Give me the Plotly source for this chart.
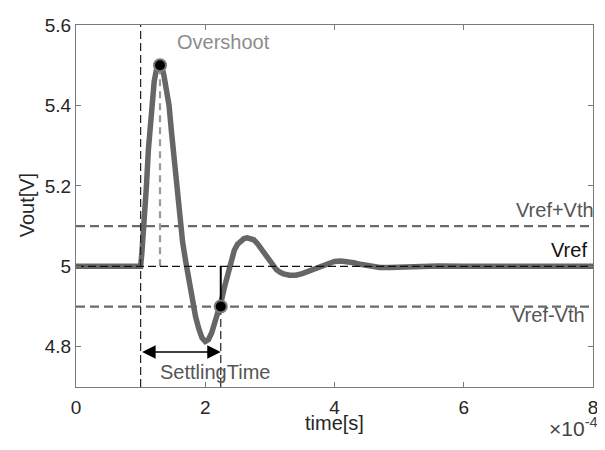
import plotly.graph_objects as go

# ---- data (time in units of 1e-4 s) ----
time_e4 = [0.0, 1.0, 1.02, 1.04, 1.06, 1.09, 1.12, 1.15, 1.18, 1.21, 1.24, 1.27,
           1.30, 1.33, 1.36, 1.40, 1.44, 1.48, 1.52, 1.56, 1.60, 1.65, 1.70, 1.75,
           1.80, 1.85, 1.90, 1.95, 2.00, 2.05, 2.10, 2.15, 2.20, 2.25, 2.30, 2.35,
           2.40, 2.45, 2.50, 2.55, 2.60, 2.65, 2.70, 2.75, 2.80, 2.85, 2.90, 2.95,
           3.00, 3.05, 3.10, 3.15, 3.20, 3.30, 3.40, 3.50, 3.60, 3.70, 3.80, 3.90,
           4.00, 4.10, 4.20, 4.30, 4.40, 4.50, 4.60, 4.70, 4.85, 5.00, 5.20, 5.40,
           5.60, 6.00, 8.00]
vout = [5.0, 5.0, 5.035, 5.075, 5.12, 5.20, 5.29, 5.36, 5.42, 5.46, 5.485, 5.50,
        5.503, 5.495, 5.475, 5.445, 5.40, 5.33, 5.26, 5.19, 5.125, 5.06, 5.01, 4.96,
        4.915, 4.875, 4.845, 4.822, 4.813, 4.818, 4.835, 4.86, 4.885, 4.915, 4.95, 4.985,
        5.015, 5.04, 5.055, 5.064, 5.069, 5.071, 5.07, 5.066, 5.058, 5.047, 5.035, 5.022,
        5.01, 5.0, 4.992, 4.986, 4.982, 4.978, 4.978, 4.982, 4.988, 4.995, 5.002, 5.008,
        5.012, 5.013, 5.012, 5.009, 5.005, 5.002, 4.999, 4.997, 4.997, 4.998, 5.0, 5.001,
        5.001, 5.0, 5.0]

vref = 5.0
vth = 0.1
step_time = 1.0
overshoot_t, overshoot_v = 1.3, 5.5
settle_t, settle_v = 2.24, 4.9

x_ticks = [0, 2, 4, 6, 8]
y_ticks = [4.8, 5.0, 5.2, 5.4, 5.6]
y_tick_labels = ["4.8", "5", "5.2", "5.4", "5.6"]
x_range = [0, 8]
y_range = [4.7, 5.6]

FONT = "Liberation Sans, Arial, Helvetica, sans-serif"
fig = go.Figure()

# threshold lines (gray dashed)
for v in (vref + vth, vref - vth):
    fig.add_trace(go.Scatter(x=x_range, y=[v, v], mode="lines",
                             line=dict(color="#6a6a6a", width=2.2, dash="9px,5px"),
                             hoverinfo="skip", showlegend=False))

# main response curve
fig.add_trace(go.Scatter(x=time_e4, y=vout, mode="lines",
                         line=dict(color="#666666", width=5.5),
                         showlegend=False))

# overshoot gray dashed vertical
fig.add_trace(go.Scatter(x=[overshoot_t, overshoot_t], y=[vref, overshoot_v], mode="lines",
                         line=dict(color="#9a9a9a", width=2.2, dash="7px,5px"),
                         hoverinfo="skip", showlegend=False))

# Vref black dashed
fig.add_trace(go.Scatter(x=x_range, y=[vref, vref], mode="lines",
                         line=dict(color="#111111", width=1.2, dash="8px,4px"),
                         hoverinfo="skip", showlegend=False))

# step time vertical dashed
fig.add_trace(go.Scatter(x=[step_time, step_time], y=y_range, mode="lines",
                         line=dict(color="#222222", width=1.2, dash="8px,4px"),
                         hoverinfo="skip", showlegend=False))

# settling time vertical dashed (below)
fig.add_trace(go.Scatter(x=[settle_t, settle_t], y=[y_range[0], settle_v], mode="lines",
                         line=dict(color="#222222", width=1.2, dash="8px,4px"),
                         hoverinfo="skip", showlegend=False))

# settling solid vertical
fig.add_trace(go.Scatter(x=[settle_t, settle_t], y=[settle_v, vref], mode="lines",
                         line=dict(color="#000000", width=2),
                         hoverinfo="skip", showlegend=False))

# markers
fig.add_trace(go.Scatter(x=[overshoot_t, settle_t], y=[overshoot_v, settle_v], mode="markers",
                         marker=dict(color="#000000", size=12, line=dict(color="#7a7a7a", width=2)),
                         showlegend=False))

annotations = [
    dict(x=1.53, y=5.557, text="Overshoot", showarrow=False, xanchor="left", yanchor="middle",
         font=dict(family=FONT, size=20, color="#8c8c8c")),
    dict(x=7.93, y=5.139, xshift=8, text="Vref+Vth", showarrow=False, xanchor="right",
         yanchor="middle", font=dict(family=FONT, size=20, color="#555555")),
    dict(x=7.94, y=5.041, text="Vref", showarrow=False, xanchor="right", yanchor="middle",
         font=dict(family=FONT, size=20, color="#111111")),
    dict(x=7.90, y=4.879, text="Vref-Vth", showarrow=False, xanchor="right", yanchor="middle",
         font=dict(family=FONT, size=20, color="#555555")),
    dict(x=2.15, y=4.738, text="SettlingTime", showarrow=False,
         xanchor="center", yanchor="middle", font=dict(family=FONT, size=20, color="#555555")),
    # double-headed arrow
    dict(x=settle_t, y=4.787, ax=step_time, ay=4.787, xref="x", yref="y", axref="x", ayref="y",
         text="", showarrow=True, arrowhead=2, startarrowhead=2, arrowside="end+start",
         arrowwidth=1.5, arrowcolor="#000000", arrowsize=1.8, startarrowsize=1.8),
    # axis titles
    dict(x=0.5, y=-0.099, xref="paper", yref="paper", text="time[s]", showarrow=False,
         xanchor="center", yanchor="middle", font=dict(family=FONT, size=20, color="#262626")),
    dict(x=-0.094, y=0.503, xref="paper", yref="paper", text="Vout[V]", showarrow=False,
         textangle=-90, xanchor="center", yanchor="middle",
         font=dict(family=FONT, size=20, color="#262626")),
    dict(x=1.013, y=-0.11, xref="paper", yref="paper", text="×10<sup>-4</sup>", showarrow=False,
         xanchor="right", yanchor="middle", font=dict(family=FONT, size=21, color="#444444")),
]

# page body adds an 8px offset, so the figure is sized/margined to compensate
fig.update_layout(
    width=597, height=442,
    margin=dict(l=68, r=7, t=7, b=63),
    plot_bgcolor="white", paper_bgcolor="white",
    annotations=annotations,
    font=dict(family=FONT, size=19, color="#262626"),
)
fig.update_xaxes(range=x_range, tickvals=x_ticks, ticktext=[str(t) for t in x_ticks],
                 showgrid=False, zeroline=False, showline=True, linecolor="#7a7a7a", linewidth=1.2,
                 mirror="ticks", ticks="inside", ticklen=5, tickcolor="#7a7a7a",
                 ticklabeloverflow="allow", ticklabelstandoff=3,
                 tickfont=dict(family=FONT, size=19, color="#262626"))
fig.update_yaxes(range=y_range, tickvals=y_ticks, ticktext=y_tick_labels,
                 showgrid=False, zeroline=False, showline=True, linecolor="#7a7a7a", linewidth=1.2,
                 mirror="ticks", ticks="inside", ticklen=5, tickcolor="#7a7a7a",
                 ticklabeloverflow="allow",
                 tickfont=dict(family=FONT, size=19, color="#262626"))

fig.write_html("out.html")
